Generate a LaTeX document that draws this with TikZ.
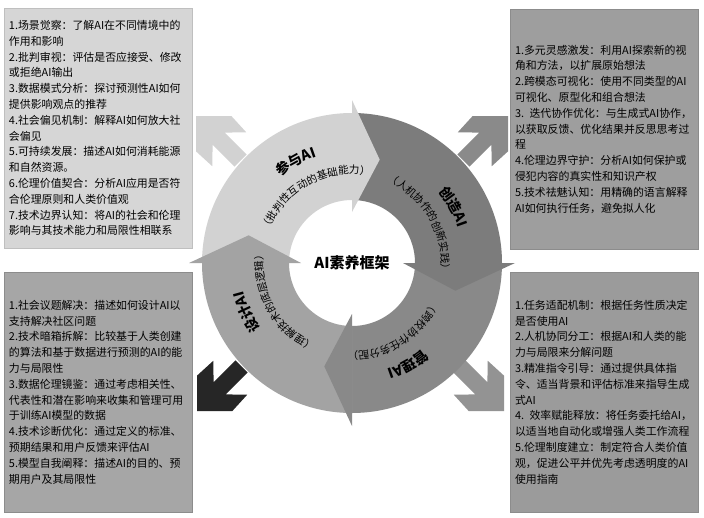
\documentclass[tikz,border=0pt]{standalone}
\usepackage{fontspec}
\setmainfont{Noto Sans CJK SC}
\usetikzlibrary{decorations.text}
\definecolor{boxtl}{HTML}{D6D6D6}
\definecolor{boxtr}{HTML}{9E9E9E}
\definecolor{boxbl}{HTML}{A6A6A6}
\definecolor{boxbr}{HTML}{9B9B9B}
\definecolor{segone}{HTML}{D2D2D2}
\definecolor{segtwo}{HTML}{7C7C7C}
\definecolor{segthree}{HTML}{898989}
\definecolor{segfour}{HTML}{A3A3A3}
\definecolor{arrowtr}{HTML}{8A8A8A}
\definecolor{arrowbl}{HTML}{262626}
\definecolor{arrowbr}{HTML}{939393}
\newcommand\ringtitle{\fontsize{14}{14}\selectfont\bfseries}
\newcommand\ringsub{\fontsize{10.5}{10.5}\selectfont}
\newcommand\boxfont{\fontsize{10.9}{15.8}\selectfont\setlength{\lineskiplimit}{-100pt}}
\tikzset{
  infobox/.style={draw=black!45,line width=0.6pt,text width=178pt,inner xsep=5pt,
    minimum height=240pt,align=left,font=\boxfont},
  ringlabel/.style={decorate,decoration={text along path,text align=center,text={#1}}},
  outarrow/.pic={\fill[pic actions] (0,0) -- (-25,25) -- (-47,24) -- (-32,8.5) -- (-63,8.5)
    -- (-63,-8.5) -- (-32,-8.5) -- (-47,-24) -- (-25,-25) -- cycle;},
}
\begin{document}
\begin{tikzpicture}[x=1pt,y=-1pt]
  \fill[white] (0,0) rectangle (704,517);
  \useasboundingbox (0,0) rectangle (704,517);
  \node [infobox,fill=boxtl,draw=black!25] (tl) at (98,128) {1.场景觉察：了解AI在不同情境中的\\作用和影响\\2.批判审视：评估是否应接受、修改\\或拒绝AI输出\\3.数据模式分析：探讨预测性AI如何\\提供影响观点的推荐\\4.社会偏见机制：解释AI如何放大社\\会偏见\\5.可持续发展：描述AI如何消耗能源\\和自然资源。\\6.伦理价值契合：分析AI应用是否符\\合伦理原则和人类价值观\\7.技术边界认知：将AI的社会和伦理\\影响与其技术能力和局限性相联系};
  \node [infobox,fill=boxtr] (tr) at (604,129) {1.多元灵感激发：利用AI探索新的视\\角和方法，以扩展原始想法\\2.跨模态可视化：使用不同类型的AI\\可视化、原型化和组合想法\\3. 迭代协作优化：与生成式AI协作，\\以获取反馈、优化结果并反思思考过\\程\\4.伦理边界守护：分析AI如何保护或\\侵犯内容的真实性和知识产权\\5.技术祛魅认知：用精确的语言解释\\AI如何执行任务，避免拟人化};
  \node [infobox,fill=boxbl] (bl) at (98,392) {1.社会议题解决：描述如何设计AI以\\支持解决社区问题\\2.技术暗箱拆解：比较基于人类创建\\的算法和基于数据进行预测的AI的能\\力与局限性\\3.数据伦理镜鉴：通过考虑相关性、\\代表性和潜在影响来收集和管理可用\\于训练AI模型的数据\\4.技术诊断优化：通过定义的标准、\\预期结果和用户反馈来评估AI\\5.模型自我阐释：描述AI的目的、预\\期用户及其局限性};
  \node [infobox,fill=boxbr] (br) at (604,392) {1.任务适配机制：根据任务性质决定\\是否使用AI\\2.人机协同分工：根据AI和人类的能\\力与局限来分解问题\\3.精准指令引导：通过提供具体指\\令、适当背景和评估标准来指导生成\\式AI\\4. 效率赋能释放：将任务委托给AI，\\以适当地自动化或增强人类工作流程\\5.伦理制度建立：制定符合人类价值\\观，促进公平并优先考虑透明度的AI\\使用指南};
  \pic [fill=segone,rotate=135] (tlarrow) at (196,116) {outarrow};
  \pic [fill=arrowtr,rotate=45] (trarrow) at (508,116) {outarrow};
  \pic [fill=arrowbl,rotate=225] (blarrow) at (197,411) {outarrow};
  \pic [fill=arrowbr,rotate=-45] (brarrow) at (504,411) {outarrow};
  \begin{scope}[shift={(352,263)}]
    \foreach \s/\e/\c in {180/90/segone,90/0/segtwo,0/-90/segthree,270/180/segfour}
      \fill[\c] (\s:150pt) arc[start angle=\s,end angle=\e,radius=150pt]
        -- (\e:63pt) arc[start angle=\e,end angle=\s,radius=63pt] -- cycle;
    \foreach \e/\c in {90/segone,0/segtwo,-90/segthree,180/segfour}
      \fill[\c] (\e:163pt) -- (\e-15:107pt) -- (\e:51pt) -- cycle;
    \path[ringlabel={|\ringtitle|参与AI}] (149:112pt) arc[start angle=149,end angle=89,radius=112pt];
    \path[ringlabel={|\ringsub|（批判性互动的基础能力）}] (179:89pt) arc[start angle=179,end angle=59,radius=89pt];
    \path[ringlabel={|\ringtitle|创造AI}] (59:112pt) arc[start angle=59,end angle=-1,radius=112pt];
    \path[ringlabel={|\ringsub|（人机协作的创新实践）}] (90:89pt) arc[start angle=90,end angle=-30,radius=89pt];
    \path[ringlabel={|\ringtitle|管理AI}] (-31:112pt) arc[start angle=-31,end angle=-91,radius=112pt];
    \path[ringlabel={|\ringsub|（跨校协作任务分配）}] (1:89pt) arc[start angle=1,end angle=-119,radius=89pt];
    \path[ringlabel={|\ringtitle|设计AI}] (235:112pt) arc[start angle=235,end angle=175,radius=112pt];
    \path[ringlabel={|\ringsub|（理解技术的底层逻辑）}] (269:89pt) arc[start angle=269,end angle=149,radius=89pt];
  \end{scope}
  \node [font=\fontsize{15}{15}\selectfont\bfseries] (hub) at (352,263) {AI素养框架};
\end{tikzpicture}
\end{document}
